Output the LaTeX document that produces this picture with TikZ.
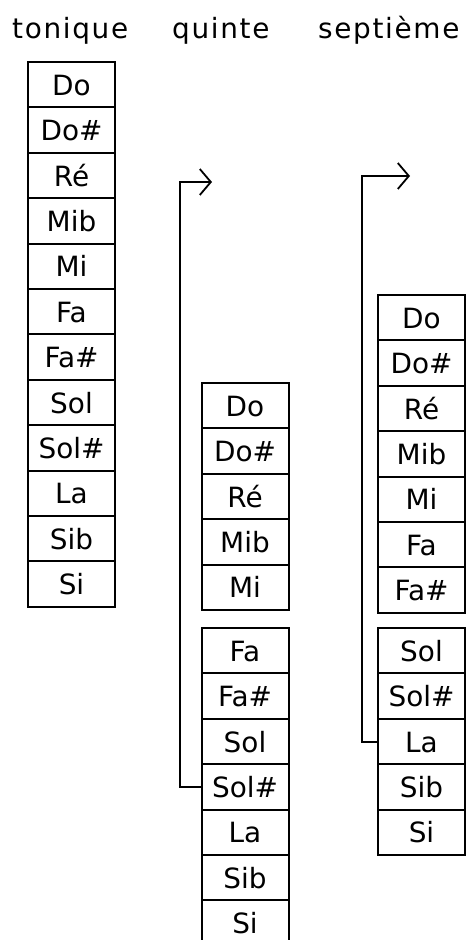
\documentclass[tikz,border=0pt]{standalone}
\usepackage{fontspec}
\setmainfont{DejaVu Sans}
\newfontfamily\titlefont[LetterSpace=6]{DejaVu Sans}
\usetikzlibrary{arrows.meta}
\begin{document}
\begin{tikzpicture}[x=1bp,y=-1bp,
  cell/.style={draw, line width=2bp, minimum width=87bp, minimum height=45.4bp,
    inner sep=0pt, text height=21bp, text depth=0pt,
    font=\fontsize{28}{30}\selectfont},
  title/.style={anchor=base west, inner sep=0pt, font=\titlefont\fontsize{28}{30}\selectfont},
  link/.style={line width=2bp, -{Straight Barb[length=11bp,width=26bp,line width=1.8bp]}}]
\fill[white] (0,0) rectangle (469,940);
\useasboundingbox (0,0) rectangle (469,940);
\node[title] (tonique) at (12,38) {tonique};
\node[title] (quinte) at (172,38) {quinte};
\node[title] (septieme) at (318,38) {septième};
\foreach \t [count=\i] in {Do,Do\#,Ré,Mib,Mi,Fa,Fa\#,Sol,Sol\#,La,Sib,Si}
  \node[cell] (L\i) at (71.5, {62+45.4*(\i-0.5)}) {\t};
\foreach \t [count=\i] in {Do,Do\#,Ré,Mib,Mi}
  \node[cell] (M\i) at (245, {383+45.4*(\i-0.5)}) {\t};
\foreach \t [count=\i] in {Fa,Fa\#,Sol,Sol\#,La,Sib,Si}
  \node[cell] (N\i) at (245, {628+45.4*(\i-0.5)}) {\t};
\foreach \t [count=\i] in {Do,Do\#,Ré,Mib,Mi,Fa,Fa\#}
  \node[cell] (R\i) at (421.5, {295+45.4*(\i-0.5)}) {\t};
\foreach \t [count=\i] in {Sol,Sol\#,La,Sib,Si}
  \node[cell] (S\i) at (421.5, {628+45.4*(\i-0.5)}) {\t};
\coordinate (qtip) at (212,182);
\coordinate (stip) at (410,176);
\draw[link] (N4.west) -- ++(-21,0) |- (qtip);
\draw[link] (S3.west) -- ++(-15,0) |- (stip);
\end{tikzpicture}
\end{document}
